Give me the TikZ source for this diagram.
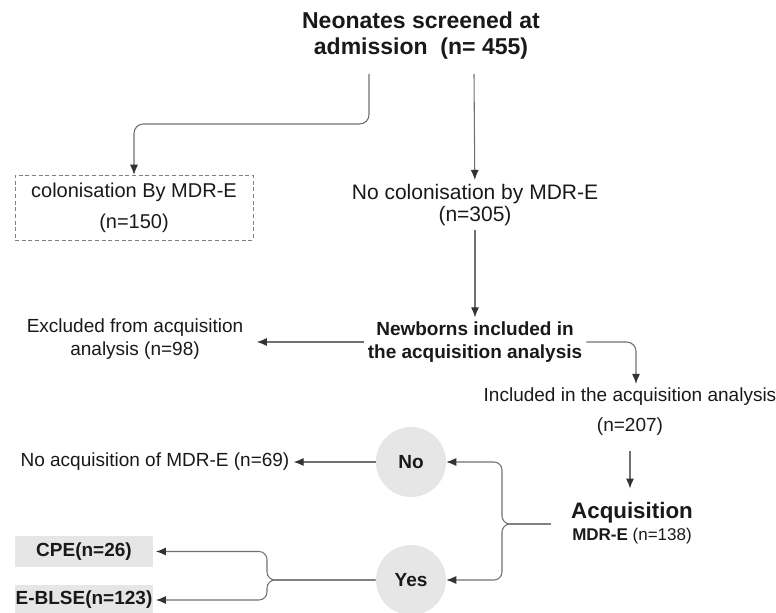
\documentclass[tikz,border=0pt]{standalone}
\usepackage{fontspec}
\setmainfont{Liberation Sans}
\usepackage{tikz}
\usetikzlibrary{arrows.meta}

\definecolor{linegray}{HTML}{707070}
\definecolor{tipgray}{HTML}{333333}
\definecolor{boxgray}{HTML}{E6E6E6}
\newcommand{\fsz}[2]{\fontsize{#1pt}{#2pt}\selectfont}

\begin{document}
\begin{tikzpicture}
	[x=0.75pt,y=-0.75pt,
	 every node/.style={align=center,text=black!90,inner sep=3pt},
	 arr/.style={draw=linegray,line width=0.8pt,-{Latex[length=7.5pt,width=6pt,color=tipgray]}},
	 dashbox/.style={draw=gray,densely dashed,minimum width=178.5pt,minimum height=48.75pt},
	 ball/.style={circle,fill=boxgray,minimum size=52.5pt,font=\bfseries\fsz{14.25}{17}},
	 greybox/.style={fill=boxgray,minimum width=103.5pt,minimum height=23.25pt,inner sep=0pt,font=\bfseries\fsz{14.25}{17}}]
	\useasboundingbox (0,0) rectangle (776,613);
	% screening
	\node[font=\bfseries\fsz{17.25}{19.5}] (title) at (421,36) {Neonates screened at\\admission\ \ (n= 455)};
	\node[dashbox,font=\fsz{15}{23.25}] (col) at (134,207.5) {colonisation By MDR-E\\(n=150)};
	\node[font=\fsz{15.75}{16.5}] (nocol) at (475,205) {No colonisation by MDR-E\\(n=305)};
	
	\node[font=\fsz{14.25}{17.25}] (excl) at (135,339) {Excluded from acquisition\\analysis (n=98)};
	\node[font=\bfseries\fsz{14.25}{17.25}] (newb) at (475,342) {Newborns included in\\the acquisition analysis};
	\node[font=\fsz{14.25}{22.5}] (incl) at (630,412) {Included in the acquisition analysis\\(n=207)};
	\node[font=\fsz{12.75}{16.5}] (acq) at (632,523) {{\bfseries\fsz{16.75}{16.75}Acquisition}\\\textbf{MDR-E} (n=138)};
	
	% outcome
	\node[ball] (no) at (411,462) {No};
	\node[ball] (yes) at (411,580) {Yes};
	\node[font=\fsz{14.25}{17}] (noacq) at (155,462) {No acquisition of MDR-E (n=69)};
	\node[greybox] (cpe) at (84,551.5) {CPE(n=26)};
	\node[greybox] (eblse) at (84,600) {E-BLSE(n=123)};
	
	\coordinate (s1) at (369,74);
	\coordinate (k1) at (134,124);
	\coordinate (s2) at (474,74);
	\coordinate (br1) at (502,524);
	\coordinate (br2) at (267,580);
	
	\draw[arr,rounded corners=7pt] (s1) |- (k1) -- (col.north);
	\foreach \from/\to in {s2/nocol,nocol/newb,no/noacq}
	\draw[arr] (\from) -- (\to);
	\draw[arr,shorten >=7pt] (newb.west) -- (excl.east |- newb.west);
	\draw[arr,rounded corners=7pt] (newb.east) -| ([xshift=4.5pt]incl.north);
	\draw[arr,shorten <=8pt,shorten >=7pt] (incl) -- (incl |- acq.north);
	\foreach \to in {no,yes}
	\draw[arr,rounded corners=6pt,shorten <=12pt] (acq.west |- br1) -- (br1) |- (\to.east);
	\foreach \to in {cpe,eblse}
	\draw[arr,rounded corners=6pt] (yes.west) -- (br2) |- ([xshift=2pt]\to.east);
\end{tikzpicture}
\end{document}
